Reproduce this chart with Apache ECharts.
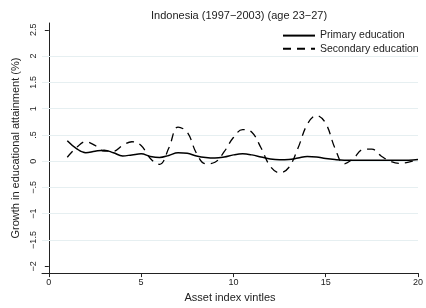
<!DOCTYPE html>
<html>
<head>
<meta charset="utf-8">
<script src="https://cdn.jsdelivr.net/npm/echarts@6/dist/echarts.min.js"></script>
<style>
  html, body { margin: 0; padding: 0; background: #fff; }
  #main { width: 426px; height: 308px; }
</style>
</head>
<body>
<div id="main"></div>
<script>
// asset index vintiles (fitted curve sampled every half vintile)
var xs = [1, 1.5, 2, 2.5, 3, 3.5, 4, 4.5, 5, 5.5, 6, 6.5, 7, 7.5, 8, 8.5, 9, 9.5, 10, 10.5,
          11, 11.5, 12, 12.5, 13, 13.5, 14, 14.5, 15, 15.5, 16, 16.5, 17, 17.5, 18, 18.5, 19, 19.5, 20];
var primary = [0.39, 0.24, 0.16, 0.19, 0.21, 0.16, 0.10, 0.12, 0.14, 0.09, 0.07, 0.11, 0.16, 0.15, 0.10, 0.07, 0.06, 0.08, 0.12, 0.14,
               0.12, 0.08, 0.04, 0.025, 0.03, 0.06, 0.09, 0.08, 0.05, 0.03, 0.02, 0.02, 0.02, 0.02, 0.02, 0.02, 0.02, 0.02, 0.03];
var secondary = [0.075, 0.26, 0.37, 0.30, 0.19, 0.19, 0.30, 0.37, 0.30, 0.05, -0.06, 0.25, 0.65, 0.55, 0.15, -0.05, -0.02, 0.18, 0.45, 0.60,
                 0.55, 0.25, -0.10, -0.22, -0.12, 0.25, 0.70, 0.87, 0.72, 0.25, -0.05, 0.05, 0.22, 0.23, 0.10, 0.0, -0.04, -0.02, 0.03];
var xTicks = [0, 5, 10, 15, 20];
var yTicks = [-2, -1.5, -1, -0.5, 0, 0.5, 1, 1.5, 2, 2.5];

function pairs(ys) {
    return xs.map(function (x, i) { return [x, ys[i]]; });
}

function fmtY(v) {
    var s = String(Math.abs(v)).replace(/^0\./, '.');
    return (v < 0 ? '\u2212' : '') + s;
}

var font = 'Liberation Sans, Arial, Helvetica, sans-serif';
var myChart = echarts.init(document.getElementById('main'));

var option = {
    animation: false,
    textStyle: { fontFamily: font },
    title: {
        text: 'Indonesia (1997\u22122003) (age 23\u221227)',
        left: 146,
        top: 5,
        textStyle: { fontSize: 11, fontWeight: 'normal', color: '#222', fontFamily: font }
    },
    legend: {
        orient: 'vertical',
        left: 277,
        top: 25,
        itemWidth: 32,
        itemHeight: 14,
        itemGap: 2,
        itemStyle: { opacity: 0 },
        textStyle: { fontSize: 10.5, color: '#222', fontFamily: font },
        data: ['Primary education', 'Secondary education']
    },
    grid: { left: 42, right: 2, top: 23, bottom: 31 },
    xAxis: {
        type: 'value',
        min: -0.37,
        max: 20,
        name: 'Asset index vintles',
        nameLocation: 'middle',
        nameGap: 16,
        nameTextStyle: { fontSize: 11, color: '#222', fontFamily: font },
        axisLine: { show: true, onZero: false, lineStyle: { color: '#222', width: 1 } },
        axisTick: { show: true, customValues: xTicks, length: 4, lineStyle: { color: '#222' } },
        axisLabel: { customValues: xTicks, fontSize: 9, color: '#222', margin: 5, fontFamily: font },
        splitLine: { show: false }
    },
    yAxis: {
        type: 'value',
        min: -2.13,
        max: 2.63,
        name: 'Growth in educational attainment (%)',
        nameLocation: 'middle',
        nameGap: 21,
        nameTextStyle: { fontSize: 11, color: '#222', fontFamily: font },
        axisLine: { show: true, lineStyle: { color: '#222', width: 1 } },
        axisTick: { show: true, customValues: yTicks, length: 4, lineStyle: { color: '#222' } },
        axisLabel: { customValues: yTicks, rotate: 90, fontSize: 9, color: '#222', margin: 4,
                     fontFamily: font, formatter: fmtY },
        splitLine: { show: false }
    },
    series: [{
        name: 'Primary education',
        type: 'line',
        data: pairs(primary),
        smooth: 0.4,
        symbol: 'none',
        lineStyle: { color: '#000', width: 1.5 },
        itemStyle: { color: '#000' },
        z: 3,
        markLine: {
            silent: true,
            symbol: 'none',
            label: { show: false },
            lineStyle: { color: '#e6eff1', width: 1, type: 'solid' },
            data: yTicks.filter(function (v) { return v > -2 && v < 2.5; })
                        .map(function (v) { return { yAxis: v }; }),
            z: 1
        }
    }, {
        name: 'Secondary education',
        type: 'line',
        data: pairs(secondary),
        smooth: 0.4,
        symbol: 'none',
        lineStyle: { color: '#000', width: 1.3, type: [8, 6] },
        itemStyle: { color: '#000' },
        z: 3
    }]
};

myChart.setOption(option);
</script>
</body>
</html>
